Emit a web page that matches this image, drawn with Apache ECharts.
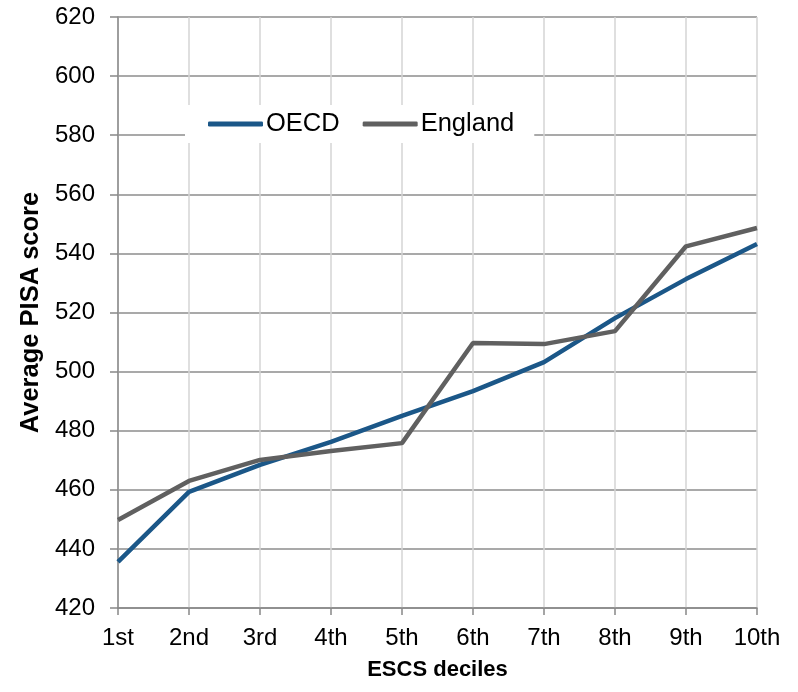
<!DOCTYPE html>
<html><head><meta charset="utf-8">
<script src="https://cdn.jsdelivr.net/npm/echarts@6/dist/echarts.min.js"></script>
<style>html,body{margin:0;padding:0;background:#fff}#c{width:798px;height:692px}</style>
</head><body><div id="c"></div>
<script>
const categories = ['1st','2nd','3rd','4th','5th','6th','7th','8th','9th','10th'];
const oecd = [435.6, 459.3, 468.4, 476.2, 485.0, 493.4, 503.2, 518.1, 531.3, 543.2];
const england = [449.8, 463.0, 470.1, 473.1, 475.8, 509.7, 509.3, 513.7, 542.4, 548.6];
const yTicks = {min: 420, max: 620, interval: 20};

const chart = echarts.init(document.getElementById('c'));
const font = 'Liberation Sans, Arial, sans-serif';
chart.setOption({
  animation: false,
  grid: {left: 118, right: 41, top: 17, bottom: 84},
  legend: {
    data: ['OECD', 'England'],
    left: 185, top: 105,
    padding: [6, 20, 6, 23],
    backgroundColor: '#fff',
    itemWidth: 55, itemHeight: 5, itemGap: 23,
    icon: 'roundRect',
    textStyle: {fontFamily: font, fontSize: 25.5, color: '#000', padding: [0,0,0,-2]}
  },
  xAxis: {
    type: 'category', data: categories, boundaryGap: false,
    name: 'ESCS deciles', nameLocation: 'middle', nameGap: 51,
    nameTextStyle: {fontFamily: font, fontSize: 22, fontWeight: 'bold', color: '#000'},
    axisLine: {lineStyle: {color: '#888', width: 1.5}},
    axisTick: {show: true, alignWithLabel: true, length: 7, lineStyle: {color: '#888', width: 1.5}},
    axisLabel: {fontFamily: font, fontSize: 24, color: '#000', margin: 18, interval: 0},
    splitLine: {show: true, lineStyle: {color: '#d4d4d4', width: 1.5}}
  },
  yAxis: {
    type: 'value', min: yTicks.min, max: yTicks.max, interval: yTicks.interval,
    name: 'Average PISA score', nameLocation: 'middle', nameGap: 74, nameRotate: 90,
    nameTextStyle: {fontFamily: font, fontSize: 25.5, fontWeight: 'bold', color: '#000'},
    axisLine: {show: true, lineStyle: {color: '#888', width: 1.5}},
    axisTick: {show: true, length: 8, lineStyle: {color: '#888', width: 1.5}},
    axisLabel: {fontFamily: font, fontSize: 24, color: '#000', margin: 23},
    splitLine: {show: true, lineStyle: {color: '#8c8c8c', width: 1.5}}
  },
  series: [
    {name: 'OECD', type: 'line', data: oecd, showSymbol: false, symbol: 'none',
     lineStyle: {color: '#1b5788', width: 4.5}, itemStyle: {color: '#1b5788'}},
    {name: 'England', type: 'line', data: england, showSymbol: false, symbol: 'none',
     lineStyle: {color: '#606060', width: 4.5}, itemStyle: {color: '#606060'}}
  ]
});
</script></body></html>
